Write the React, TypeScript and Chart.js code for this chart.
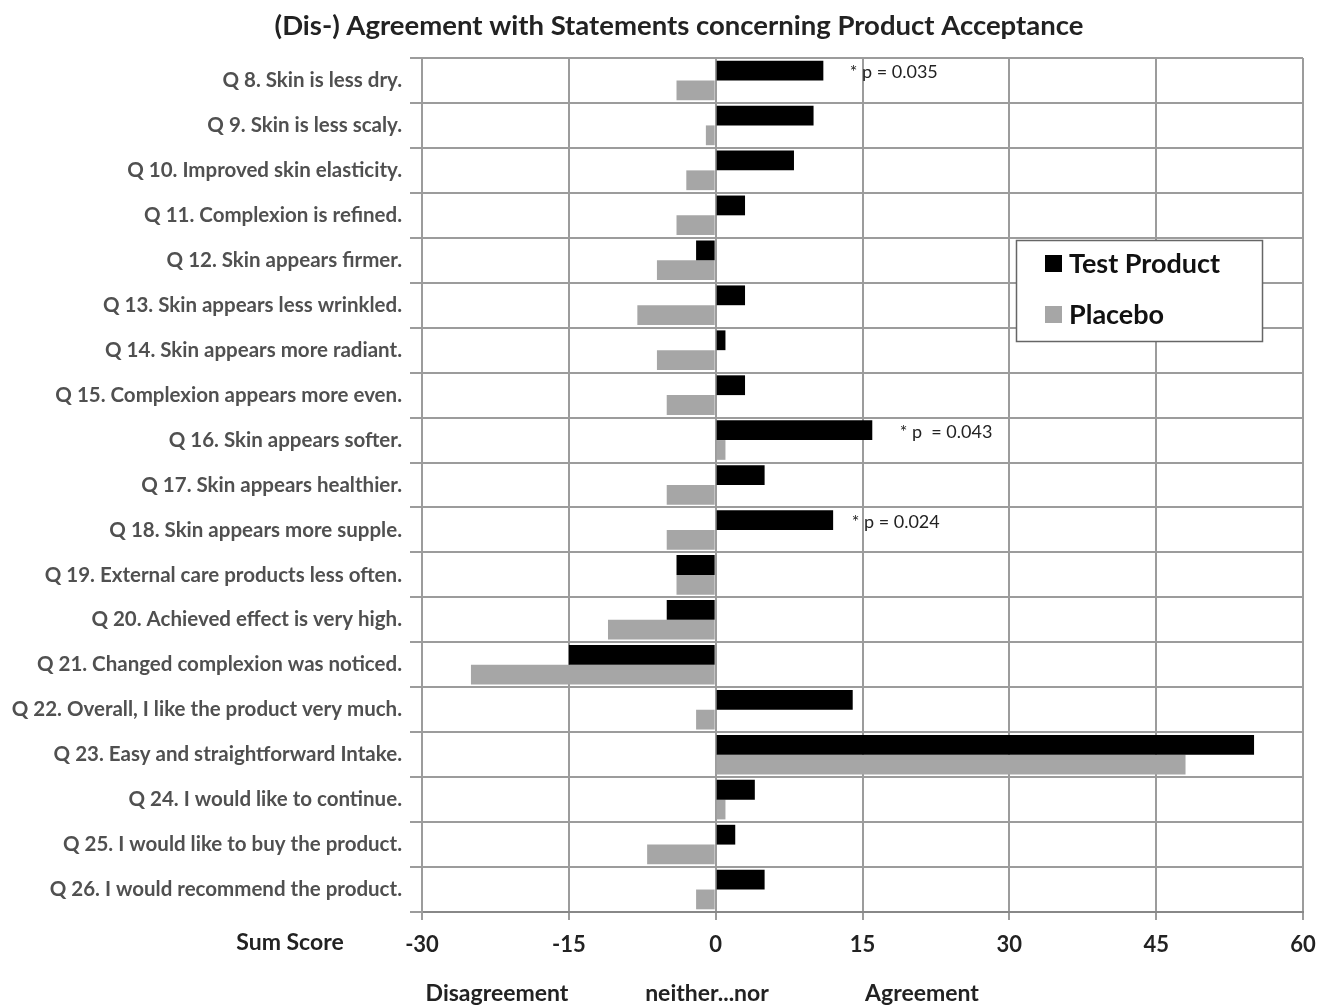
import { useEffect, useRef } from 'react';
import { Chart, registerables } from 'chart.js';

Chart.register(...registerables);

const categories = [
  'Q 8. Skin is less dry.',
  'Q 9. Skin is less scaly.',
  'Q 10. Improved skin elasticity.',
  'Q 11. Complexion is refined.',
  'Q 12. Skin appears firmer.',
  'Q 13. Skin appears less wrinkled.',
  'Q 14. Skin appears more radiant.',
  'Q 15. Complexion appears more even.',
  'Q 16. Skin appears softer.',
  'Q 17. Skin appears healthier.',
  'Q 18. Skin appears more supple.',
  'Q 19. External care products less often.',
  'Q 20. Achieved effect is very high.',
  'Q 21. Changed complexion was noticed.',
  'Q 22. Overall, I like the product very much.',
  'Q 23. Easy and straightforward Intake.',
  'Q 24. I would like to continue.',
  'Q 25. I would like to buy the product.',
  'Q 26. I would recommend the product.',
];

const testProduct = [11, 10, 8, 3, -2, 3, 1, 3, 16, 5, 12, -4, -5, -15, 14, 55, 4, 2, 5];
const placebo = [-4, -1, -3, -4, -6, -8, -6, -5, 1, -5, -5, -4, -11, -25, -2, 48, 1, -7, -2];

const xTicks = [-30, -15, 0, 15, 30, 45, 60];

const annotationIndex = [0, 8, 10];
const annotationValue = [13.7, 18.8, 13.9];
const annotationText = ['* p = 0.035', '* p  = 0.043', '* p = 0.024'];

const titleText = '(Dis-) Agreement with Statements concerning Product Acceptance';
const axisTitle = 'Sum Score';
const scaleLabels = ['Disagreement', 'neither...nor', 'Agreement'];

const FONT = 'Lato, "Open Sans", sans-serif';
const BLACK = '#000000';
const GRAY = '#a6a6a6';
const GRID = '#9c9c9c';

export default function App() {
  const ref = useRef<HTMLCanvasElement>(null);

  useEffect(() => {
    document.body.style.margin = '0';
    document.body.style.overflow = 'hidden';
    const canvas = ref.current;
    if (!canvas) return;

    const textPlugin = {
      id: 'textPlugin',
      afterDraw(chart: any) {
        const ctx = chart.ctx;
        const xs = chart.scales.x;
        ctx.save();
        // title
        ctx.fillStyle = '#222222';
        ctx.font = `bold 27.5px ${FONT}`;
        ctx.textAlign = 'center';
        ctx.textBaseline = 'middle';
        ctx.fillText(titleText, 679, 26);

        // annotations
        const meta = chart.getDatasetMeta(0);
        ctx.font = `18px ${FONT}`;
        ctx.fillStyle = '#222222';
        ctx.textAlign = 'left';
        annotationIndex.forEach((idx, i) => {
          const bar = meta.data[idx];
          ctx.fillText(annotationText[i], xs.getPixelForValue(annotationValue[i]), bar.y + 2);
        });

        // axis title and scale labels
        ctx.font = `bold 23px ${FONT}`;
        ctx.fillStyle = '#222222';
        ctx.textAlign = 'center';
        ctx.fillText(axisTitle, 290, 943);
        const labelX = [497, 707, 922];
        scaleLabels.forEach((t, i) => ctx.fillText(t, labelX[i], 994));

        // legend
        ctx.fillStyle = '#ffffff';
        ctx.fillRect(1016, 240, 246, 101);
        ctx.strokeStyle = '#666666';
        ctx.lineWidth = 1.5;
        ctx.strokeRect(1016.5, 240.5, 246, 101);
        const ds = chart.data.datasets;
        const ly = [263, 314];
        ctx.font = `bold 27px ${FONT}`;
        ctx.textAlign = 'left';
        ds.forEach((d: any, i: number) => {
          ctx.fillStyle = d.backgroundColor;
          ctx.fillRect(1045, ly[i] - 8, 17, 17);
          ctx.fillStyle = '#111111';
          ctx.fillText(d.label, 1069, ly[i] + 1);
        });
        ctx.restore();
      },
    };

    const chart = new Chart(canvas, {
      type: 'bar',
      data: {
        labels: categories,
        datasets: [
          { label: 'Test Product', data: testProduct, backgroundColor: BLACK },
          { label: 'Placebo', data: placebo, backgroundColor: GRAY },
        ],
      },
      options: {
        indexAxis: 'y',
        responsive: false,
        animation: false,
        layout: { padding: { top: 58, right: 17, left: 0, bottom: 0 } },
        datasets: { bar: { categoryPercentage: 0.88, barPercentage: 1 } },
        plugins: {
          legend: { display: false },
          title: { display: false },
          tooltip: { enabled: false },
        },
        scales: {
          x: {
            min: -30,
            max: 60,
            afterBuildTicks: (s: any) => {
              s.ticks = xTicks.map((v) => ({ value: v }));
            },
            afterFit: (s: any) => {
              s.height = 95;
              s.paddingLeft = 0;
              s.paddingRight = 0;
            },
            grid: { color: GRID, lineWidth: 2, tickLength: 8, drawTicks: true },
            border: { color: '#888888', width: 2 },
            ticks: {
              color: '#222222',
              font: { family: FONT, size: 22, weight: 'bold' },
              padding: 12,
            },
          },
          y: {
            afterFit: (s: any) => {
              s.width = 422;
              s.paddingTop = 0;
              s.paddingBottom = 0;
            },
            grid: { color: GRID, lineWidth: 2, tickLength: 12, offset: true },
            border: { color: GRID, width: 2 },
            ticks: {
              color: '#505050',
              font: { family: FONT, size: 20.5, weight: 'bold' },
              padding: 8,
              autoSkip: false,
            },
          },
        },
      },
      plugins: [textPlugin],
    } as any);

    return () => chart.destroy();
  }, []);

  return (
    <div style={{ width: 1320, height: 1007 }}>
      <canvas ref={ref} width={1320} height={1007} style={{ display: 'block' }} />
    </div>
  );
}
